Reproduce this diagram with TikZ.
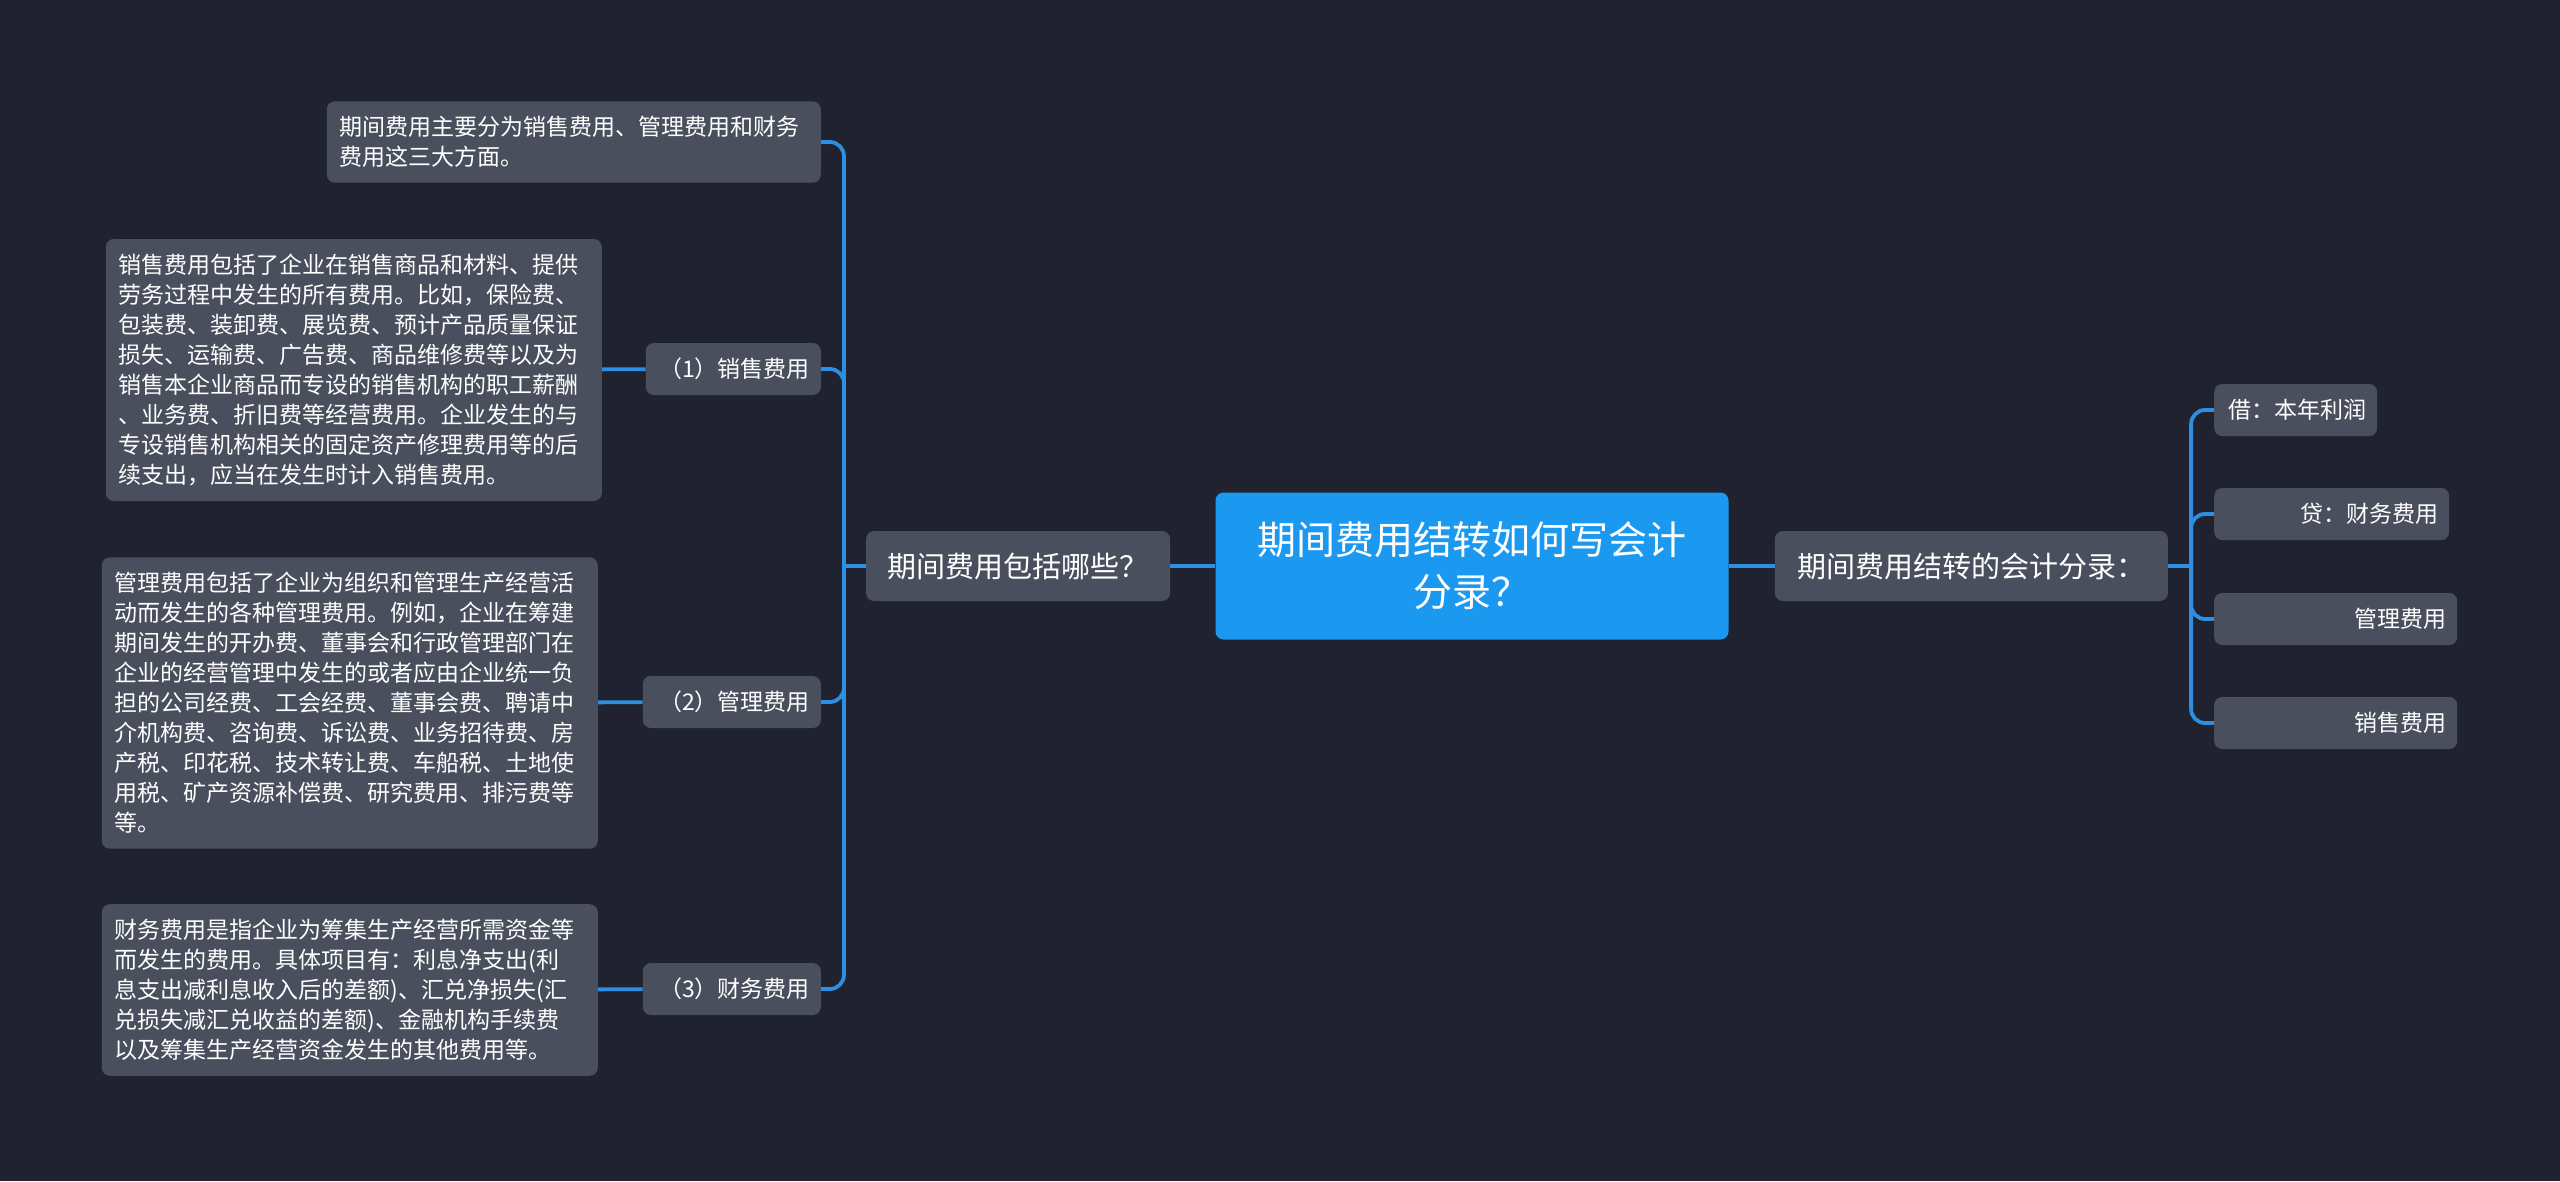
\documentclass[tikz,border=0pt]{standalone}
\usepackage{fontspec}
\setmainfont{Noto Sans CJK SC}
\usetikzlibrary{positioning}
\definecolor{bgdark}{HTML}{20232F}
\definecolor{nodegray}{HTML}{4A4F5D}
\definecolor{rootblue}{HTML}{1B99F0}
\definecolor{lineblue}{HTML}{2B8FE2}
\tikzset{
    root/.style =   {rectangle,
                    rounded corners=8pt,
                    fill=rootblue,
                    text=white,
                    align=center,
                    font=\fontsize{39}{52}\selectfont,
                    minimum width=513pt,
                    minimum height=147pt},
    topic/.style =  {rectangle,
                    rounded corners=8pt,
                    fill=nodegray,
                    text=white,
                    font=\fontsize{29}{36}\selectfont,
                    minimum height=70pt},
    leaf/.style =   {rectangle,
                    rounded corners=8pt,
                    fill=nodegray,
                    text=white,
                    font=\fontsize{23}{30}\selectfont,
                    inner xsep=11pt,
                    text width=#1,
                    align=right,
                    minimum height=52pt},
    leaf/.default = 141pt,
    note/.style =   {rectangle,
                    rounded corners=8pt,
                    fill=nodegray,
                    text=white,
                    font=\fontsize{23}{30}\selectfont,
                    inner xsep=13pt,
                    inner ysep=15pt,
                    text width=470pt,
                    align=left},
    -,
    link/.style =   {draw=lineblue,
                    line width=3.8pt,
                    rounded corners=14pt},
    elbow/.style =  {rounded corners=14pt,
                    to path={|- (\tikztotarget)}}}
\begin{document}
\begin{tikzpicture}[x=1pt,y=-1pt]
                \fill[bgdark] (0,0) rectangle (2560,1181);
                \node[root]     (root)      at (1472,566)           {期间费用结转如何写会计\\分录？};
                \node[topic,minimum width=304pt]    (ask)   [left=45pt of root]     {期间费用包括哪些？};
                \node[topic,minimum width=393pt]    (entry) [right=46pt of root]    {期间费用结转的会计分录：};
                \coordinate[left=22pt of ask.west]      (lfork);
                \coordinate[right=23pt of entry.east]   (rfork);
                % right side
                \node[leaf]         (debit)     [anchor=west] at (2214,410)   {借：本年利润};
                \node[leaf=213pt]   (credit)    [anchor=west] at (2214,514)   {贷：财务费用};
                \node[leaf=221pt]   (adminfee)  [anchor=west] at (2214,619)   {管理费用};
                \node[leaf=221pt]   (salesfee)  [anchor=west] at (2214,723)   {销售费用};
                % left side
                \node[note,text width=468pt]    (basics)    [anchor=east] at (821,142)  {期间费用主要分为销售费用、管理费用和财务\\费用这三大方面。};
                \node[leaf=153pt]   (sales)     [anchor=east] at (821,369)  {（1）销售费用};
                \node[leaf=156pt]   (admin)     [anchor=east] at (821,702)  {（2）管理费用};
                \node[leaf=156pt]   (finance)   [anchor=east] at (821,989)  {（3）财务费用};
                \node[note]     (salesnote)     [anchor=east] at (602,370)  {销售费用包括了企业在销售商品和材料、提供\\劳务过程中发生的所有费用。比如，保险费、\\包装费、装卸费、展览费、预计产品质量保证\\损失、运输费、广告费、商品维修费等以及为\\销售本企业商品而专设的销售机构的职工薪酬\\、业务费、折旧费等经营费用。企业发生的与\\专设销售机构相关的固定资产修理费用等的后\\续支出，应当在发生时计入销售费用。};
                \node[note]     (adminnote)     [anchor=east] at (598,703)  {管理费用包括了企业为组织和管理生产经营活\\动而发生的各种管理费用。例如，企业在筹建\\期间发生的开办费、董事会和行政管理部门在\\企业的经营管理中发生的或者应由企业统一负\\担的公司经费、工会经费、董事会费、聘请中\\介机构费、咨询费、诉讼费、业务招待费、房\\产税、印花税、技术转让费、车船税、土地使\\用税、矿产资源补偿费、研究费用、排污费等\\等。};
                \node[note]     (financenote)   [anchor=east] at (598,990)  {财务费用是指企业为筹集生产经营所需资金等\\而发生的费用。具体项目有：利息净支出(利\\息支出减利息收入后的差额)、汇兑净损失(汇\\兑损失减汇兑收益的差额)、金融机构手续费\\以及筹集生产经营资金发生的其他费用等。};
                \path [link]    (root)      edge []         (ask)
                                (root)      edge []         (entry)
                                (ask)       edge []         (lfork)
                                (lfork)     edge [elbow]    (basics.east)
                                (lfork)     edge [elbow]    (sales.east)
                                (lfork)     edge [elbow]    (admin.east)
                                (lfork)     edge [elbow]    (finance.east)
                                (sales)     edge []         (salesnote)
                                (admin)     edge []         (adminnote)
                                (finance)   edge []         (financenote)
                                (entry)     edge []         (rfork)
                                (rfork)     edge [elbow]    (debit.west)
                                (rfork)     edge [elbow]    (credit.west)
                                (rfork)     edge [elbow]    (adminfee.west)
                                (rfork)     edge [elbow]    (salesfee.west);
        \end{tikzpicture}
\end{document}
